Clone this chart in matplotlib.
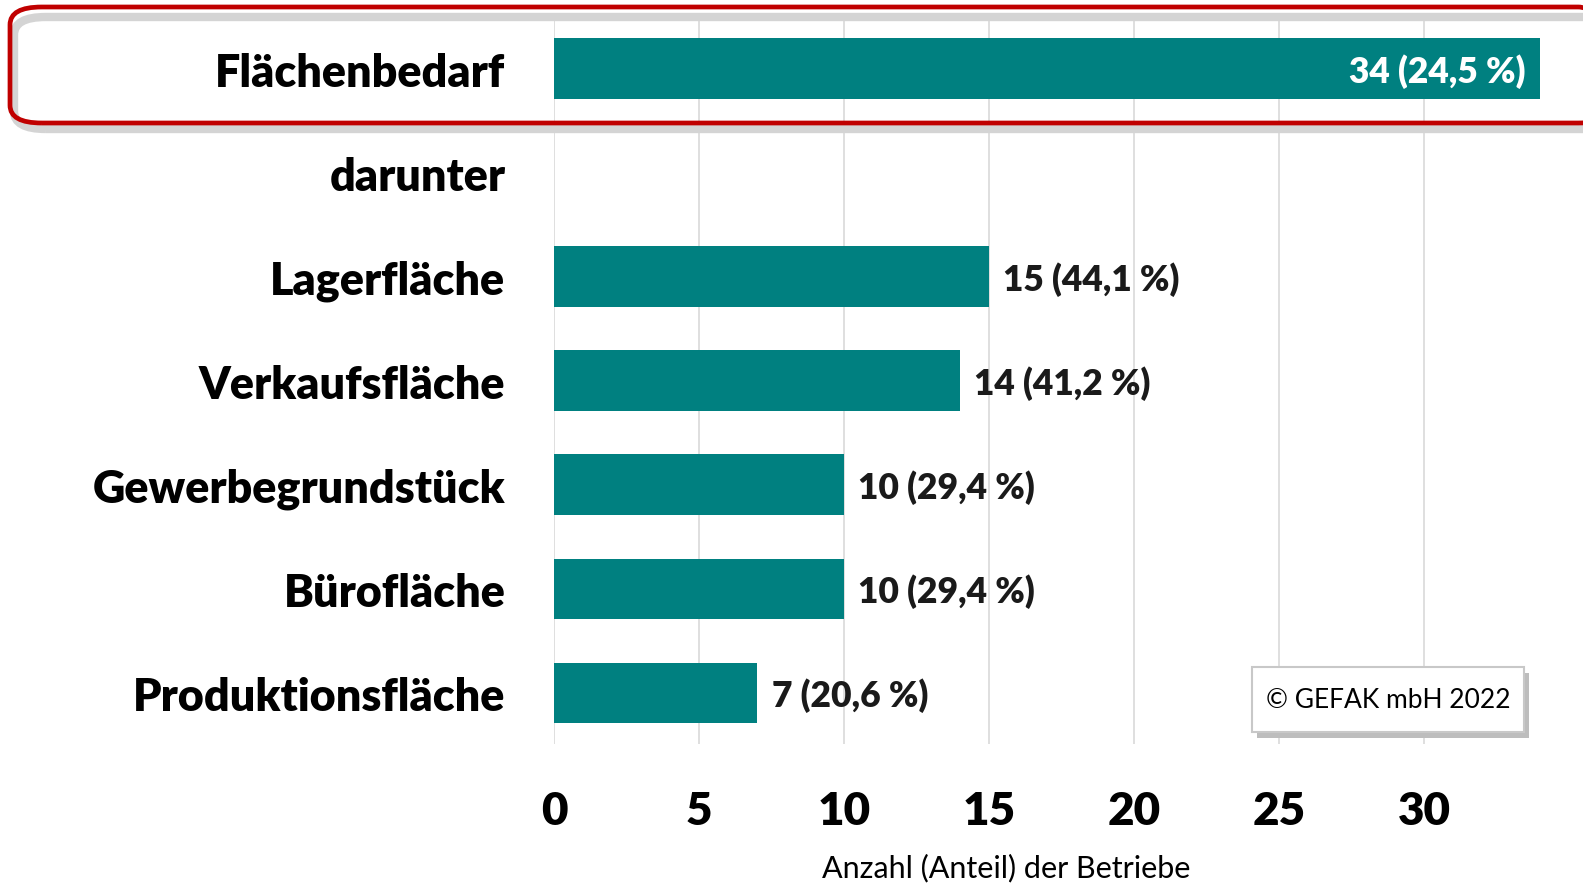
import numpy as np
import matplotlib
matplotlib.use("Agg")
import matplotlib.pyplot as plt
from matplotlib.patches import FancyBboxPatch

categories = ["Flächenbedarf", "darunter", "Lagerfläche", "Verkaufsfläche",
              "Gewerbegrundstück", "Bürofläche", "Produktionsfläche"]
counts = [34, np.nan, 15, 14, 10, 10, 7]
shares = [24.5, np.nan, 44.1, 41.2, 29.4, 29.4, 20.6]
x_ticks = [0, 5, 10, 15, 20, 25, 30]

FONT = "Lato"
TEAL = "#008080"

fig = plt.figure(figsize=(15.83, 8.87), dpi=100)
ax = fig.add_axes([554 / 1583, 1 - 745 / 887, (1569 - 554) / 1583, (745 - 15) / 887])

# red highlight frame around the first row (drawn in figure pixels)
shadow = FancyBboxPatch((14 / 1583, 1 - 130 / 887), 1600 / 1583, 112 / 887,
                        boxstyle="round,pad=0,rounding_size=0.02",
                        transform=fig.transFigure, facecolor="none",
                        edgecolor="#d4d4d4", linewidth=6, zorder=0)
fig.patches.append(shadow)
frame = FancyBboxPatch((10 / 1583, 1 - 124 / 887), 1600 / 1583, 116 / 887,
                       boxstyle="round,pad=0,rounding_size=0.02",
                       transform=fig.transFigure, facecolor="none",
                       edgecolor="#C00000", linewidth=3.4, zorder=10)
fig.patches.append(frame)

y = np.arange(len(categories))
ax.barh(y, counts, height=0.585, color=TEAL, zorder=2)

for i, (c, s) in enumerate(zip(counts, shares)):
    if np.isnan(c):
        continue
    label = f"{c:d} ({s:.1f} %)".replace(".", ",")
    if i == 0:
        ax.text(c - 0.5, i + 0.02, label, ha="right", va="center", color="white",
                fontsize=25.5, fontweight="heavy", family=FONT, zorder=3)
    else:
        ax.text(c + 0.5, i + 0.02, label, ha="left", va="center", color="#1a1a1a",
                fontsize=25.5, fontweight="heavy", family=FONT, zorder=3)

ax.set_xlim(0, 35)
ax.set_ylim(6.49, -0.526)
ax.set_xticks(x_ticks)
ax.set_xticklabels([str(t) for t in x_ticks], fontsize=33, fontweight="heavy", family=FONT)
ax.set_yticks(y)
ax.set_yticklabels(categories, fontsize=32.3, fontweight="heavy", family=FONT)
ax.tick_params(axis="x", length=0, pad=33)
ax.tick_params(axis="y", length=0, pad=35)
for sp in ax.spines.values():
    sp.set_visible(False)
ax.grid(axis="x", color="#d9d9d9", linewidth=1.2, zorder=0)
ax.set_axisbelow(True)

fig.text(1006 / 1583, 1 - 868 / 887, "Anzahl (Anteil) der Betriebe", ha="center", va="center",
         fontsize=22, family=FONT)

# copyright box with shadow
bx0, by0, bw, bh = 1252, 668, 272, 65
sh = FancyBboxPatch(((bx0 + 5) / 1583, 1 - (by0 + bh + 6) / 887), bw / 1583, bh / 887,
                    boxstyle="square,pad=0", transform=fig.transFigure,
                    facecolor="#bdbdbd", edgecolor="none", zorder=5)
fig.patches.append(sh)
box = FancyBboxPatch((bx0 / 1583, 1 - (by0 + bh) / 887), bw / 1583, bh / 887,
                     boxstyle="square,pad=0", transform=fig.transFigure,
                     facecolor="white", edgecolor="#c8c8c8", linewidth=1.5, zorder=6)
fig.patches.append(box)
fig.text((bx0 + bw / 2) / 1583, 1 - (by0 + bh / 2) / 887, "© GEFAK mbH 2022",
         ha="center", va="center", fontsize=19, family=FONT, zorder=7)

fig.savefig("out.png", dpi=100)
